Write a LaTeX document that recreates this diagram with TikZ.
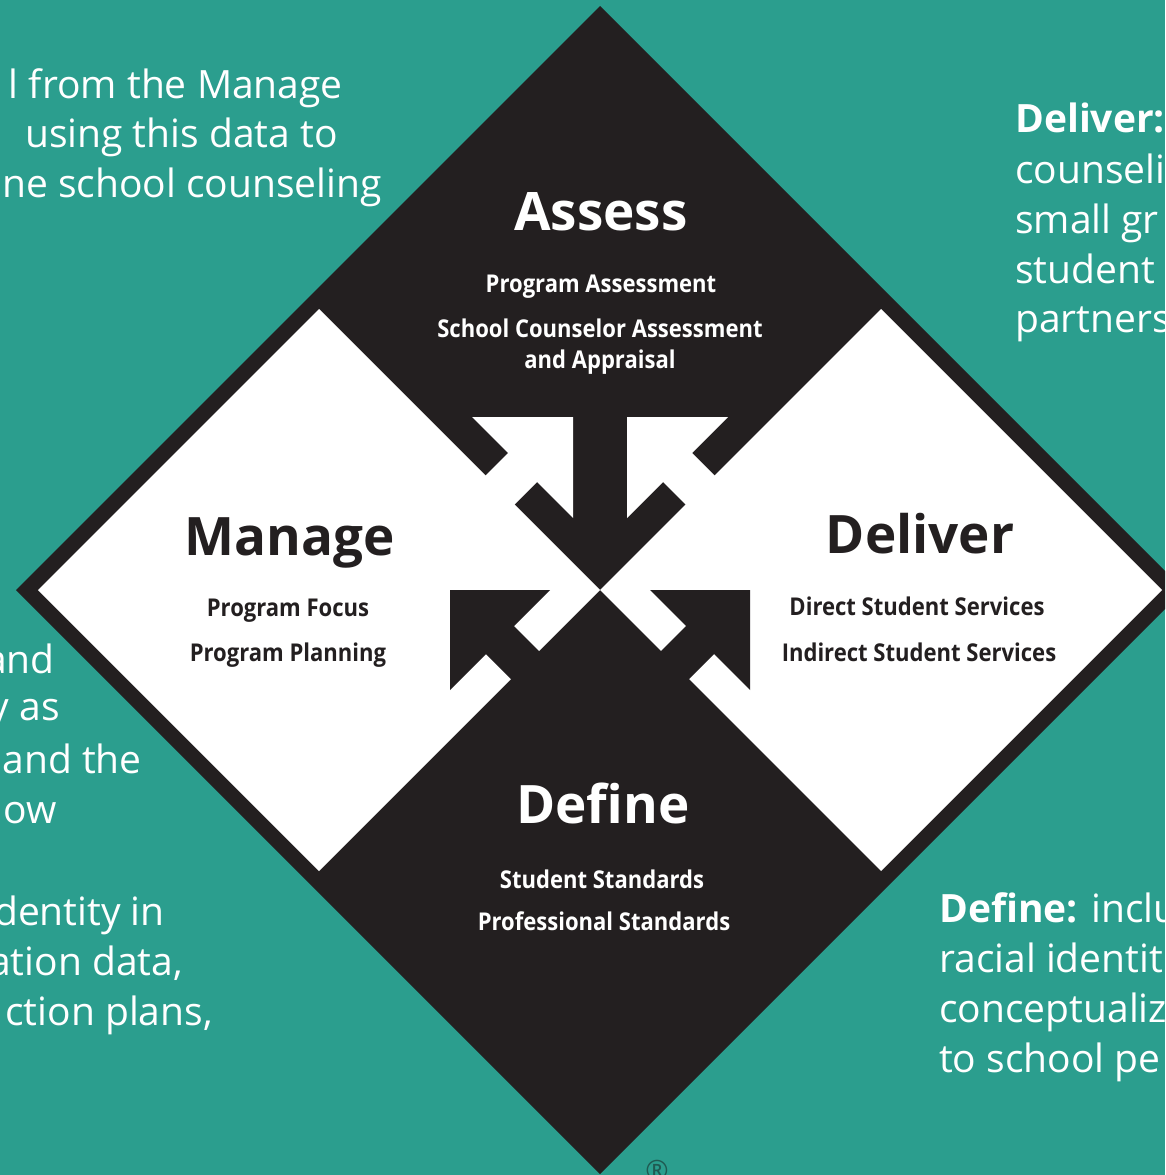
\documentclass[tikz,border=0pt]{standalone}
\usepackage{fontspec}
\setmainfont{Open Sans}
\newfontfamily\taskfont[FakeStretch=0.9]{Open Sans}
\definecolor{asteal}{HTML}{2B9E8E}
\definecolor{asink}{HTML}{231F20}
\definecolor{asmark}{HTML}{1F5A52}

\begin{document}
\begin{tikzpicture}[x=1pt, y=-1pt,
    phase/.style={font=\fontsize{53}{60}\selectfont\bfseries, inner sep=0pt, anchor=base},
    task/.style={font=\taskfont\fontsize{24.5}{28}\selectfont\bfseries, inner sep=0pt, anchor=base},
    aside/.style={font=\fontsize{39}{50}\selectfont, text=white, inner sep=0pt}]
    \useasboundingbox (0,0) rectangle (1165,1175);
    \clip (0,0) rectangle (1165,1175);
    \fill[asteal] (0,0) rectangle (1165,1175);

    \fill[asink] (600,6) -- (1184,590) -- (600,1174) -- (16,590) -- cycle;
    \fill[white] (38,590) -- (319,309) -- (600,590) -- (319,871) -- cycle;
    \fill[white] (600,590) -- (881,309) -- (1162,590) -- (881,871) -- cycle;

    \fill[white] (472,417) -- (573,417) -- (573,518) -- (537,482) -- (507,512) -- (478,483) -- (508,453) -- cycle;
    \fill[white] (728,417) -- (627,417) -- (627,518) -- (663,482) -- (693,512) -- (722,483) -- (692,453) -- cycle;
    \fill[asink] (450,590) -- (550,590) -- (514,626) -- (546,658) -- (518,686) -- (486,654) -- (450,690) -- cycle;
    \fill[asink] (750,590) -- (650,590) -- (686,626) -- (654,658) -- (682,686) -- (714,654) -- (750,690) -- cycle;

    \node[phase, text=white] (assess) at (601,230) {Assess};
    \node[task, text=white] (assessA) at (601,292) {Program Assessment};
    \node[task, text=white] (assessB) at (600,337) {School Counselor Assessment};
    \node[task, text=white] (assessC) at (600,368) {and Appraisal};

    \node[phase, text=asink] (manage) at (290,555) {Manage};
    \node[task, text=asink] (manageA) at (288,616) {Program Focus};
    \node[task, text=asink] (manageB) at (288,661) {Program Planning};

    \node[phase, text=asink] (deliver) at (920,553) {Deliver};
    \node[task, text=asink] (deliverA) at (917,615) {Direct Student Services};
    \node[task, text=asink] (deliverB) at (919,661) {Indirect Student Services};

    \node[phase, text=white] (define) at (603,823) {Define};
    \node[task, text=white] (defineA) at (602,888) {Student Standards};
    \node[task, text=white] (defineB) at (604,930) {Professional Standards};

    \node[aside, anchor=base east] (noteNW1) at (343,98) {l from the Manage};
    \node[aside, anchor=base east] (noteNW2) at (338,147) {using this data to};
    \node[aside, anchor=base east] (noteNW3) at (382,197) {ne school counseling};

    \node[aside, anchor=base east] (noteW1) at (55,673) {and};
    \node[aside, anchor=base east] (noteW2) at (60,720) {y as};
    \node[aside, anchor=base east] (noteW3) at (142,773) {and the};
    \node[aside, anchor=base east] (noteW4) at (57,823) {ow};
    \node[aside, anchor=base east] (noteW5) at (165,925) {dentity in};
    \node[aside, anchor=base east] (noteW6) at (183,975) {ation data,};
    \node[aside, anchor=base east] (noteW7) at (213,1025) {ction plans,};

    \node[aside, anchor=base west] (noteNE1) at (1015,132) {\bfseries Deliver:};
    \node[aside, anchor=base west] (noteNE2) at (1015,183) {counseli};
    \node[aside, anchor=base west] (noteNE3) at (1015,233) {small gr};
    \node[aside, anchor=base west] (noteNE4) at (1015,283) {student};
    \node[aside, anchor=base west] (noteNE5) at (1015,332) {partners};

    \node[aside, anchor=base west] (noteSE1) at (939,922) {{\bfseries Define:} inclu};
    \node[aside, anchor=base west] (noteSE2) at (939,972) {racial identit};
    \node[aside, anchor=base west] (noteSE3) at (939,1022) {conceptualiz};
    \node[aside, anchor=base west] (noteSE4) at (939,1072) {to school pe};

    \node[font=\fontsize{28}{28}\selectfont, text=asmark, inner sep=0pt] (regmark) at (657,1170) {\textregistered};
\end{tikzpicture}
\end{document}
